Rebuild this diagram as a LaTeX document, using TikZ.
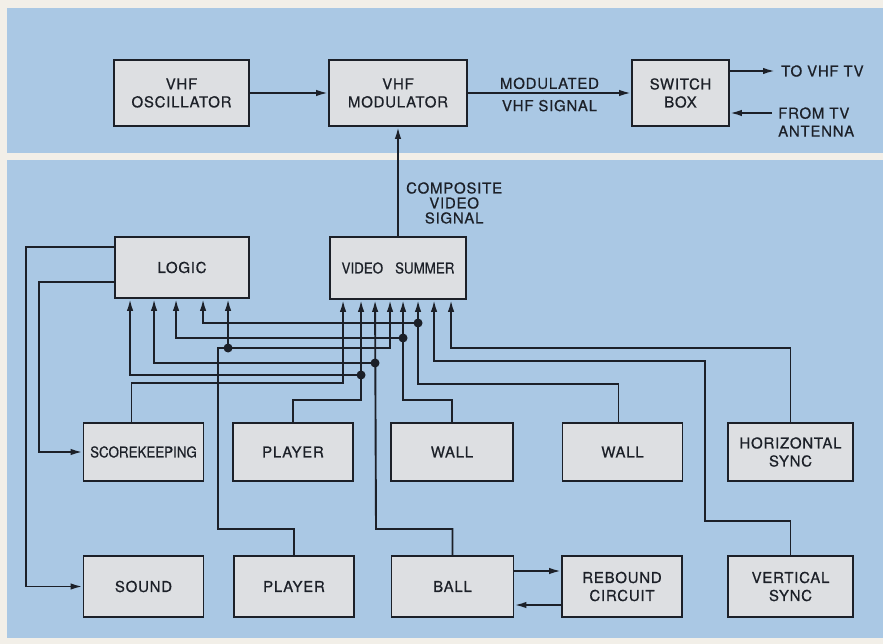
\documentclass[tikz,border=0pt]{standalone}
\usepackage{fontspec}
\setmainfont[FakeBold=0.6, LetterSpace=5]{TeX Gyre Heros}
\newfontfamily\narrowfont[FakeStretch=0.89, FakeBold=0.6]{TeX Gyre Heros}
\usetikzlibrary{arrows.meta}

\definecolor{paper}{RGB}{242,239,232}
\definecolor{panel}{RGB}{170,200,228}
\definecolor{boxgray}{RGB}{221,223,226}
\definecolor{ink}{RGB}{28,32,40}

\tikzset{
  blk/.style={draw=ink, fill=boxgray, line width=1.9pt, minimum width=120pt,
    minimum height=58pt, inner sep=2pt, align=center, text=ink},
  wire/.style={draw=ink, line width=1.9pt},
  arr/.style={wire, -{Latex[length=12pt,width=6.5pt]}},
  lbl/.style={text=ink, inner sep=3pt}
}

\begin{document}
\begin{tikzpicture}[x=1pt, y=-1pt, font=\fontsize{15}{18}\selectfont]
  % Page and the two panels
  \useasboundingbox (0,0) rectangle (883,644);
  \fill[paper] (0,0) rectangle (883,644);
  \fill[panel] (7,8) rectangle (883,153);
  \fill[panel] (7,160) rectangle (883,638);

  % RF section
  \node[blk, minimum width=135pt, minimum height=66pt] (osc) at (181.5,93) {VHF\\OSCILLATOR};
  \node[blk, minimum width=138pt, minimum height=66pt] (mod) at (398,93) {VHF\\MODULATOR};
  \node[blk, minimum width=97pt, minimum height=66pt] (switch) at (680.5,93) {SWITCH\\BOX};

  \coordinate (tvout) at (775,71);
  \coordinate (antin) at (772,113);
  \node[lbl, anchor=west] (tvlbl) at (778,71) {TO VHF TV};
  \node[lbl, anchor=west, align=left] (antlbl) at (775,122) {FROM TV\\ANTENNA};

  \draw[arr] (osc) -- (mod);
  \draw[arr] (mod) -- (switch)
    node[lbl, midway, above] {MODULATED}
    node[lbl, midway, below=3pt] {VHF SIGNAL};
  \draw[arr] (switch.east |- tvout) -- (tvout);
  \draw[arr] (antin) -- (switch.east |- antin);

  % Logic and summer
  \node[blk, minimum width=134pt, minimum height=61pt] (logic) at (182,267.5) {LOGIC};
  \node[blk, minimum width=136pt, minimum height=62pt] (vsum) at (398,268) {\narrowfont VIDEO\hspace{0.8em}SUMMER};
  \node[lbl, anchor=west, align=center, font=\fontsize{15}{15}\selectfont] (complbl) at (403,203) {COMPOSITE\\VIDEO\\SIGNAL};
  \draw[arr] (vsum) -- (mod);

  % Circuit blocks
  \node[blk] (score) at (143.5,452) {\narrowfont SCOREKEEPING};
  \node[blk] (player1) at (293,452) {PLAYER};
  \node[blk, minimum width=122pt] (wall1) at (452,452) {WALL};
  \node[blk] (wall2) at (622.5,452) {WALL};
  \node[blk, minimum width=125pt] (hsync) at (790.5,452) {HORIZONTAL\\SYNC};
  \node[blk, minimum height=61pt] (sound) at (143.5,586.5) {SOUND};
  \node[blk, minimum height=61pt] (player2) at (294,586.5) {PLAYER};
  \node[blk, minimum width=122pt, minimum height=61pt] (ball) at (452.5,586.5) {BALL};
  \node[blk, minimum height=61pt] (rebound) at (622,586.5) {REBOUND\\CIRCUIT};
  \node[blk, minimum width=125pt, minimum height=61pt] (vsync) at (790.5,586.5) {VERTICAL\\SYNC};

  % Inputs along the bottom of the summer and the logic
  \coordinate (v1) at ([xshift=14pt]vsum.south west);
  \coordinate (v2) at ([xshift=32pt]vsum.south west);
  \coordinate (v3) at ([xshift=46pt]vsum.south west);
  \coordinate (v4) at ([xshift=61pt]vsum.south west);
  \coordinate (v5) at ([xshift=74pt]vsum.south west);
  \coordinate (v6) at ([xshift=89pt]vsum.south west);
  \coordinate (v7) at ([xshift=105pt]vsum.south west);
  \coordinate (v8) at ([xshift=122pt]vsum.south west);
  \coordinate (l1) at ([xshift=16pt]logic.south west);
  \coordinate (l2) at ([xshift=40pt]logic.south west);
  \coordinate (l3) at ([xshift=62pt]logic.south west);
  \coordinate (l4) at ([xshift=89pt]logic.south west);
  \coordinate (l5) at ([xshift=114pt]logic.south west);

  % Logic outputs
  \draw[arr] ([yshift=20.5pt]logic.west) -- ++(-88,0) |- (sound.west);
  \draw[arr] ([yshift=-14.5pt]logic.west) -- ++(-75,0) |- (score.west);

  % Signals into the summer
  \draw[arr] ([xshift=-12pt]score.north) |- (v1 |- 0,383) -- (v1);
  \draw[arr] (player1.north) |- (v2 |- 0,400) -- (v2);
  \draw[arr] (ball.north) |- (376,529) -- (v3);
  \draw[arr] (player2.north) |- (218,529) |- (v4 |- 0,348) -- (v4);
  \draw[arr] (wall1.north) |- (v5 |- 0,400) -- (v5);
  \draw[arr] ([xshift=-4pt]wall2.north) |- (v6 |- 0,384) -- (v6);
  \draw[arr] (vsync.north) |- (705,521) |- (v7 |- 0,361) -- (v7);
  \draw[arr] (hsync.north) |- (v8 |- 0,348) -- (v8);

  % Taps into the logic
  \draw[arr] (v2 |- 0,375) -| (l1);
  \draw[arr] (v3 |- 0,363) -| (l2);
  \draw[arr] (v5 |- 0,338) -| (l3);
  \draw[arr] (v6 |- 0,323) -| (l4);
  \draw[arr] (l5 |- 0,348) -- (l5);
  \foreach \p/\h in {v2/375, v3/363, v5/338, v6/323, l5/348}
    \fill[ink] (\p |- 0,\h) circle (4.5pt);

  % Ball and rebound
  \draw[arr] ([yshift=15.5pt]ball.east) -- ([yshift=15.5pt]rebound.west);
  \draw[arr] ([yshift=-18.5pt]rebound.west) -- ([yshift=-18.5pt]ball.east);
\end{tikzpicture}
\end{document}
